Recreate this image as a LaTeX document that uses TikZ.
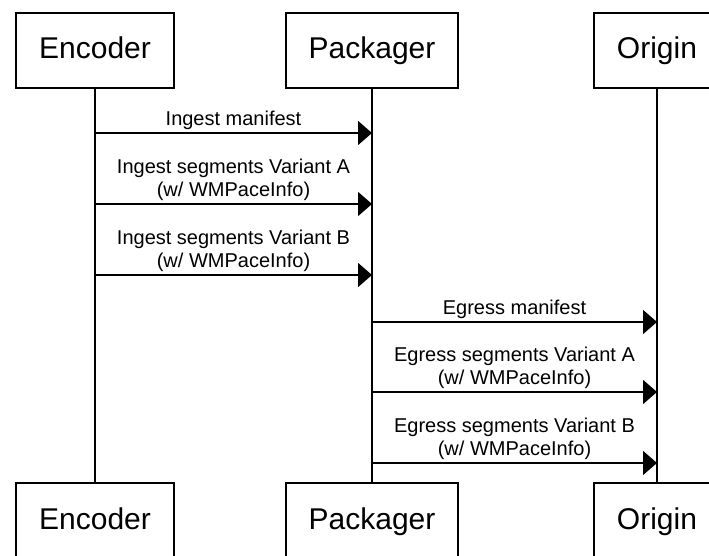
\documentclass[tikz,border=0pt]{standalone}
\usepackage{fontspec}
\setmainfont{Liberation Sans}
\usetikzlibrary{arrows.meta}

\tikzset{
  actor/.style={draw,line width=1.5pt,minimum height=75pt,inner sep=0pt,text height=22pt,text depth=5pt,font=\fontsize{30}{36}\selectfont},
  life/.style={line width=1.5pt},
  msg/.style={line width=1.5pt,-{Triangle[length=14pt,width=24pt]}},
  msglabel/.style={midway,above,inner sep=3pt,align=center,font=\fontsize{20}{23}\selectfont}
}

\begin{document}
\begin{tikzpicture}[x=1pt,y=-1pt]
\useasboundingbox (0,0) rectangle (709,556);
% participants, top row
\node[actor,minimum width=158pt] (enc) at (95,50.5) {Encoder};
\node[actor,minimum width=172pt] (pkg) at (372,50.5) {Packager};
\node[actor,minimum width=126pt] (org) at (657,50.5) {Origin};
% participants, bottom row
\node[actor,minimum width=158pt] (encB) at (95,520.5) {Encoder};
\node[actor,minimum width=172pt] (pkgB) at (372,520.5) {Packager};
\node[actor,minimum width=126pt] (orgB) at (657,520.5) {Origin};

% lifelines
\draw[life] (enc.south) -- (encB.north);
\draw[life] (pkg.south) -- (pkgB.north);
\draw[life] (org.south) -- (orgB.north);

% encoder to packager
\draw[msg] (enc |- 0,133) -- node[msglabel] {Ingest manifest} (pkg |- 0,133);
\draw[msg] (enc |- 0,204) -- node[msglabel] {Ingest segments Variant A\\(w/ WMPaceInfo)} (pkg |- 0,204);
\draw[msg] (enc |- 0,275) -- node[msglabel] {Ingest segments Variant B\\(w/ WMPaceInfo)} (pkg |- 0,275);

% packager to origin
\draw[msg] (pkg |- 0,322) -- node[msglabel] {Egress manifest} (org |- 0,322);
\draw[msg] (pkg |- 0,392) -- node[msglabel] {Egress segments Variant A\\(w/ WMPaceInfo)} (org |- 0,392);
\draw[msg] (pkg |- 0,463) -- node[msglabel] {Egress segments Variant B\\(w/ WMPaceInfo)} (org |- 0,463);
\end{tikzpicture}
\end{document}
